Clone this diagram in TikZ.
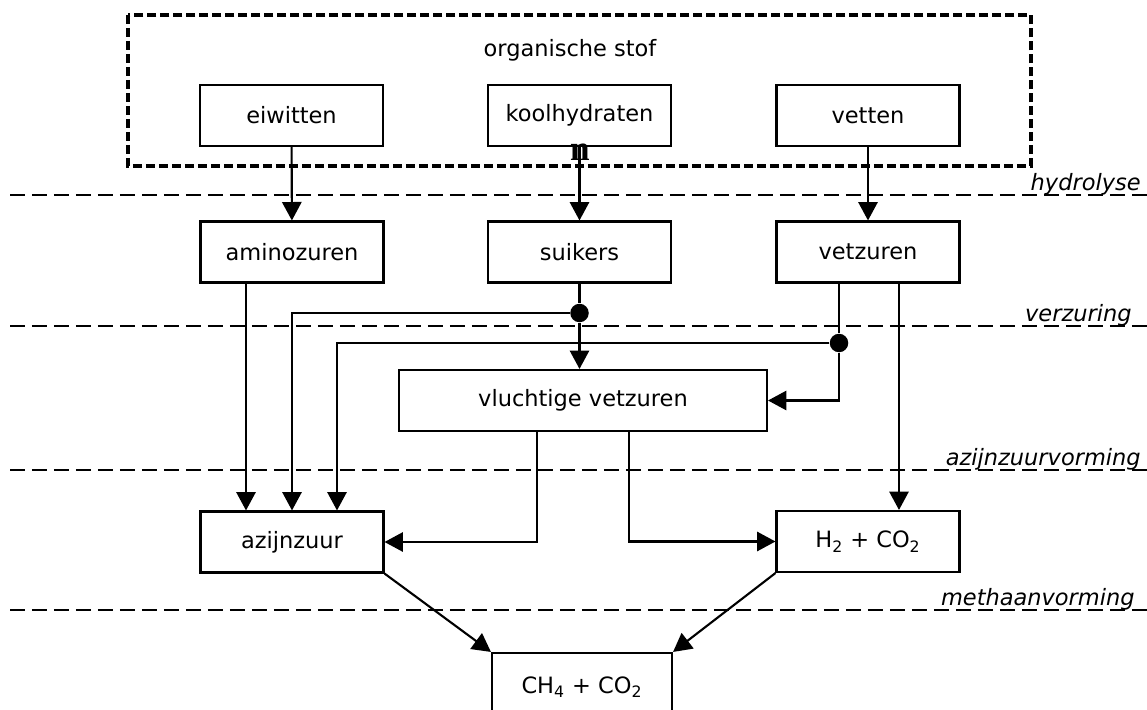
\documentclass[tikz,border=0pt]{standalone}
\usepackage{fontspec}
\setmainfont{DejaVu Sans}
\newfontfamily\serifn{Liberation Serif}
\usetikzlibrary{arrows.meta}

\begin{document}
\begin{tikzpicture}[x=0.02cm, y=-0.02cm,
  every node/.style={font=\fontsize{12.8}{15}\selectfont},
  box/.style={draw, line width=1.2pt, minimum width=3.66cm, minimum height=1.22cm, inner sep=0pt},
  layer/.style={line width=1.2pt, dash pattern=on 0.3cm off 0.14cm},
  phase/.style={anchor=base east, inner sep=0pt, font=\fontsize{12.8}{15}\selectfont\itshape},
  flow/.style={line width=1.2pt, -{Triangle[width=11pt,length=10.5pt]}},
  line/.style={line width=1.2pt},
  dot/.style={circle, fill, inner sep=0pt, minimum size=0.37cm}]
\useasboundingbox (0,0) rectangle (1147,710);
\clip (0,0) rectangle (1147,710);

% organische stof
\draw[line width=1.9pt, dash pattern=on 0.18cm off 0.08cm] (128,15) rectangle (1031,166);
\node at (570,50) (o1) {organische stof};

% fasen
\foreach \y/\x/\t in {195/1141/hydrolyse, 326/1132/verzuring, 470/1141/azijnzuurvorming, 610/1135/methaanvorming}{
  \draw[layer] (10,\y) -- (1147,\y);
  \node[phase] at (\x,\y-5) (f\y) {\t};
}

\node[box] at (291.5,115.5) (a1) {eiwitten};
\node[box] at (579.5,115.5) (a2) {koolhydraten};
\node[box] at (868,115.5) (a3) {vetten};
\node[font=\serifn\bfseries\fontsize{20}{20}\selectfont, inner sep=0pt] at (580,152) (n1) {n};
\node[box] at (292,252) (a4) {aminozuren};
\node[box] at (579.5,252) (a5) {suikers};
\node[box] at (868,252) (a6) {vetzuren};
\node[box, minimum width=7.36cm] at (583,400.5) (a7) {vluchtige vetzuren};
\node[box] at (292,542) (a8) {azijnzuur};
\node[box] at (868,541.5) (a9) {H\textsubscript{2} + CO\textsubscript{2}};
\node[box, minimum width=3.6cm, minimum height=1.36cm] at (582,687) (a10) {CH\textsubscript{4} + CO\textsubscript{2}};

\node[dot] at (579.5,313) (d1) {};
\node[dot] at (839,343) (d2) {};
\coordinate (c1) at (246,282);
\coordinate (c2) at (337,343);
\coordinate (c3) at (899,282);
\coordinate (c4) at (537,431);
\coordinate (c5) at (629,431);

\draw[flow] (a1) -- (a4);
\draw[flow] (a2) -- (a5);
\draw[flow] (a3) -- (a6);
\draw[line] (a5) -- (d1);
\draw[flow] (d1) -- (d1 |- a7.north);
\draw[flow] (d1) -| (a8.north);
\draw[line] (a6.south -| d2) -- (d2);
\draw[flow] (d2) |- (a7.east);
\draw[flow] (d2) -- (c2) -- (c2 |- a8.north);
\draw[flow] (c1) -- (c1 |- a8.north);
\draw[flow] (c3) -- (c3 |- a9.north);
\draw[flow] (c4) |- (a8.east);
\draw[flow] (c5) |- (a9.west);
\draw[flow] (a8.south east) -- (a10.north west);
\draw[flow] (a9.south west) -- (a10.north east);
\end{tikzpicture}
\end{document}
